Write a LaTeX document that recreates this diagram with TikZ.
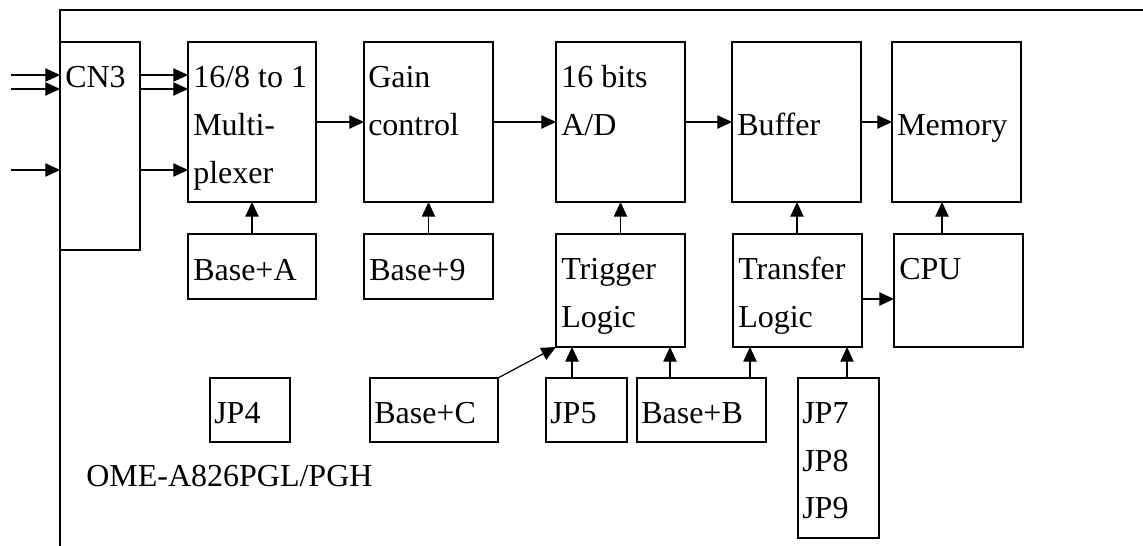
\documentclass[tikz,border=0pt]{standalone}
\usepackage{fontspec}
\setmainfont{Liberation Serif}
\usetikzlibrary{arrows.meta,calc,fit}
\begin{document}
\begin{tikzpicture}[x=0.75pt,y=-0.75pt,
  box/.style={draw,line width=0.9pt,inner sep=0pt,outer sep=0pt},
  txt/.style={anchor=base west,inner sep=0pt,font=\fontsize{24}{36}\selectfont},
  arr/.style={line width=0.9pt,-{Triangle[length=11pt,width=10pt]}},
  frameline/.style={line width=1.6pt}]
\useasboundingbox (0,0) rectangle (1143,546);
% frame
\draw[frameline] (1143,10) -- (60,10) -- (60,546);
% top row boxes
\node[box,fit={(60,42) (140,250)}] (cn3) {};
\node[box,fit={(188,42) (316,202)}] (mux) {};
\node[box,fit={(364,42) (493,202)}] (gain) {};
\node[box,fit={(556,42) (685,202)}] (ad) {};
\node[box,fit={(732,42) (861,202)}] (buf) {};
\node[box,fit={(892,42) (1021,202)}] (mem) {};
% second row
\node[box,fit={(188,234) (316,299)}] (baseA) {};
\node[box,fit={(364,234) (493,299)}] (base9) {};
\node[box,fit={(556,234) (685,347)}] (trig) {};
\node[box,fit={(733,234) (862,347)}] (tran) {};
\node[box,fit={(894,234) (1023,347)}] (cpu) {};
% third row
\node[box,fit={(210,378) (290,442)}] (jp4) {};
\node[box,fit={(370,378) (498,442)}] (baseC) {};
\node[box,fit={(546,378) (627,442)}] (jp5) {};
\node[box,fit={(637,378) (766,442)}] (baseB) {};
\node[box,fit={(798,378) (879,538)}] (jp79) {};
% texts
\node[txt] (tcn3) at (65,87) {CN3};
\node[txt] (tmux1) at (193,87) {16/8 to 1};
\node[txt] (tmux2) at (193,135) {Multi-};
\node[txt] (tmux3) at (193,183) {plexer};
\node[txt] (tgain1) at (368,87) {Gain};
\node[txt] (tgain2) at (368,135) {control};
\node[txt] (tad1) at (561,87) {16 bits};
\node[txt] (tad2) at (561,135) {A/D};
\node[txt] (tbuf) at (737,135) {Buffer};
\node[txt] (tmem) at (897,135) {Memory};
\node[txt] (tbaseA) at (193,280) {Base+A};
\node[txt] (tbase9) at (369,280) {Base+9};
\node[txt] (ttrig1) at (561,279) {Trigger};
\node[txt] (ttrig2) at (561,327) {Logic};
\node[txt] (ttran1) at (738,279) {Transfer};
\node[txt] (ttran2) at (738,327) {Logic};
\node[txt] (tcpu) at (899,279) {CPU};
\node[txt] (tjp4) at (214,423) {JP4};
\node[txt] (tbaseC) at (374,423) {Base+C};
\node[txt] (tjp5) at (550,423) {JP5};
\node[txt] (tbaseB) at (641,423) {Base+B};
\node[txt] (tjp7) at (802,423) {JP7};
\node[txt] (tjp8) at (802,471) {JP8};
\node[txt] (tjp9) at (802,518) {JP9};
\node[txt] (tome) at (86,486) {OME-A826PGL/PGH};
% input arrows
\coordinate (in1) at (11,75);
\coordinate (in2) at (11,89);
\coordinate (in3) at (11,170);
\foreach \c in {in1,in2,in3}{
  \draw[arr] (\c) -- (\c -| cn3.west);
  \draw[arr] (cn3.east |- \c) -- (mux.west |- \c);
}
% main chain
\draw[arr] (mux.east) -- (gain.west);
\draw[arr] (gain.east) -- (ad.west);
\draw[arr] (ad.east) -- (buf.west);
\draw[arr] (buf.east) -- (mem.west);
% vertical arrows to top row
\draw[arr] (baseA.north) -- (mux.south);
\draw[arr] (base9.north) -- (gain.south);
\draw[arr] (trig.north) -- (trig.north |- ad.south);
\coordinate (tranup) at ($(tran.north west)+(64,0)$);
\draw[arr] (tranup) -- (tranup |- buf.south);
\coordinate (cpuup) at ($(cpu.north west)+(48,0)$);
\draw[arr] (cpuup) -- (cpuup |- mem.south);
% transfer -> cpu
\coordinate (tcy) at (0,299);
\draw[arr] (tran.east |- tcy) -- (cpu.west |- tcy);
% bottom arrows
\draw[arr] (baseC.north east) -- (trig.south west);
\coordinate (jp5up) at ($(jp5.north west)+(26,0)$);
\draw[arr] (jp5up) -- (jp5up |- trig.south);
\coordinate (bB1) at ($(baseB.north west)+(33,0)$);
\coordinate (bB2) at ($(baseB.north west)+(113,0)$);
\draw[arr] (bB1) -- (bB1 |- trig.south);
\draw[arr] (bB2) -- (bB2 |- tran.south);
\coordinate (jpup) at ($(jp79.north west)+(49,0)$);
\draw[arr] (jpup) -- (jpup |- tran.south);
\end{tikzpicture}
\end{document}
